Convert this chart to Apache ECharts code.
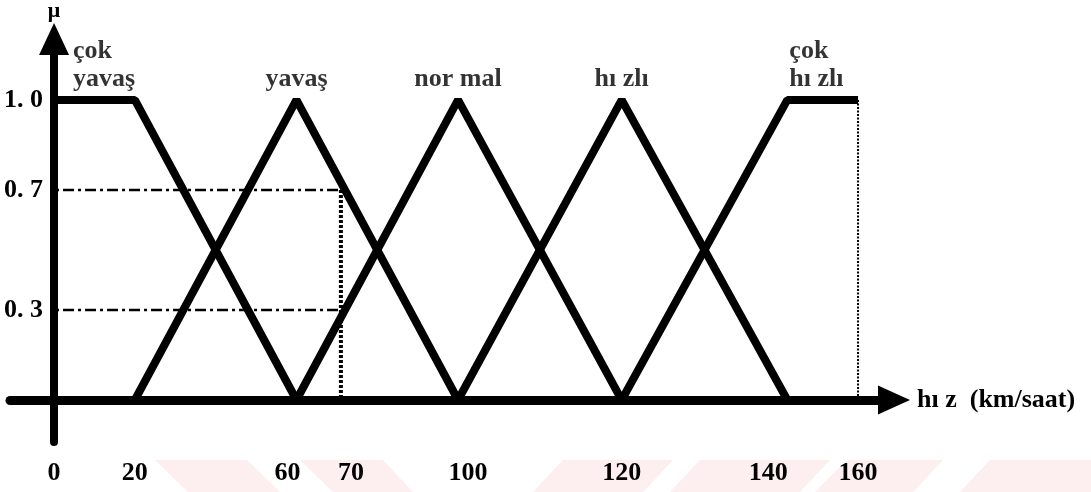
<!DOCTYPE html>
<html>
<head>
<meta charset="utf-8">
<title>hız üyelik fonksiyonları</title>
<script src="https://cdn.jsdelivr.net/npm/echarts@6/dist/echarts.min.js"></script>
<style>
  html, body { margin: 0; padding: 0; background: #fff; }
  #chart { width: 1091px; height: 492px; }
</style>
</head>
<body>
<div id="chart"></div>
<script>
// hız etiketleri (km/saat) ve şekildeki yerleri (şekil ölçekli çizilmemiş)
const speedTicks = [0, 20, 60, 70, 100, 120, 140, 160];
const drawnPos = [0, 20, 60, 71, 100, 140.5, 181.5, 199];

const muTicks = [0.3, 0.7, 1.0];
const muTickText = ['0. 3', '0. 7', '1. 0'];

// üyelik fonksiyonları [hız, μ]
const cokYavas = [[0, 1], [20, 1], [60, 0]];
const yavas = [[20, 0], [60, 1], [100, 0]];
const normal = [[60, 0], [100, 1], [120, 0]];
const hizli = [[100, 0], [120, 1], [140, 0]];
const cokHizli = [[120, 0], [140, 1], [160, 1]];

const setNames = ['çok\nyavaş', 'yavaş', 'nor mal', 'hı zlı', 'çok\nhı zlı'];
const setLabelAt = [0, 60, 100, 120, 140];

// 70 km/saat okuması
const readSpeed = 70;
const readMu = [0.7, 0.3];
const maxSpeed = 160;

const pos = v => drawnPos[speedTicks.indexOf(v)];
const toXY = arr => arr.map(([v, m]) => [pos(v), m]);

const font = { fontFamily: 'Liberation Serif', fontWeight: 'bold', fontSize: 26, color: '#000' };
const X_RANGE = { min: -10.9, max: 207.9 };
const Y_RANGE = { min: -0.14, max: 1.203 };

// daktilo baskısındaki gibi bazı etiketler tikten biraz kaymış (px)
const labelNudge = { 60: -9, 70: 10, 100: 10, 140: -19 };
const nudgeRich = {};
Object.values(labelNudge).forEach(d => {
  nudgeRich['n' + (d < 0 ? 'm' : 'p') + Math.abs(d)] = {
    ...font,
    padding: d < 0 ? [0, -2 * d, 0, 0] : [0, 0, 0, 2 * d],
  };
});

function tickText(v) {
  const s = speedTicks[drawnPos.indexOf(v)];
  const d = labelNudge[s];
  if (!d) return String(s);
  return '{n' + (d < 0 ? 'm' : 'p') + Math.abs(d) + '|' + s + '}';
}

function memberSeries(name, data) {
  return {
    name,
    type: 'line',
    data: toXY(data),
    showSymbol: false,
    silent: true,
    lineStyle: { color: '#000', width: 8 },
    z: 3,
  };
}

const chart = echarts.init(document.getElementById('chart'), null, { renderer: 'canvas' });

// filigran (soluk pembe şeritler)
const stripes = [
  [[155, 460], [247, 460], [280, 492], [188, 492]],
  [[300, 460], [383, 460], [413, 492], [333, 492]],
  [[563, 460], [673, 460], [643, 492], [533, 492]],
  [[700, 460], [830, 460], [800, 492], [670, 492]],
  [[847, 460], [943, 460], [913, 492], [815, 492]],
  [[990, 460], [1091, 460], [1091, 492], [960, 492]],
];

const noGrid = { axisTick: { show: false }, splitLine: { show: false } };

chart.setOption({
  animation: false,
  backgroundColor: '#fff',
  graphic: stripes.map(points => ({
    type: 'polygon',
    z: -10,
    silent: true,
    shape: { points },
    style: { fill: '#fdeef0' },
  })),
  grid: { left: 10, right: 197, top: 39, bottom: 50, containLabel: false, outerBoundsMode: 'none' },
  xAxis: [
    {
      type: 'value',
      ...X_RANGE,
      ...noGrid,
      name: 'hı z  (km/saat)',
      nameLocation: 'end',
      nameGap: 23,
      nameTextStyle: font,
      axisLine: {
        onZero: true,
        lineStyle: { color: '#000', width: 9 },
        symbol: ['none', 'triangle'],
        symbolSize: [29, 32],
      },
      axisLabel: { show: false },
    },
    {
      // yalnız tik etiketleri
      type: 'value',
      position: 'bottom',
      ...X_RANGE,
      ...noGrid,
      axisLine: { show: false, onZero: false },
      axisLabel: {
        ...font,
        margin: 18,
        customValues: drawnPos,
        formatter: tickText,
        rich: nudgeRich,
      },
    },
  ],
  yAxis: [
    {
      type: 'value',
      ...Y_RANGE,
      ...noGrid,
      name: 'μ',
      nameLocation: 'end',
      nameGap: 17,
      nameTextStyle: { ...font, fontSize: 22 },
      axisLine: {
        onZero: true,
        lineStyle: { color: '#000', width: 8 },
        symbol: ['none', 'triangle'],
        symbolSize: [30, 32],
      },
      axisLabel: { show: false },
    },
    {
      type: 'value',
      position: 'left',
      offset: -44,
      ...Y_RANGE,
      ...noGrid,
      axisLine: { show: false, onZero: false },
      axisLabel: {
        ...font,
        margin: 11,
        padding: [0, 0, 12, 0],
        customValues: muTicks,
        formatter: v => muTickText[muTicks.indexOf(v)],
      },
    },
  ],
  series: [
    memberSeries('çok yavaş', cokYavas),
    memberSeries('yavaş', yavas),
    memberSeries('normal', normal),
    memberSeries('hızlı', hizli),
    memberSeries('çok hızlı', cokHizli),
    ...readMu.map(m => ({
      type: 'line',
      data: toXY([[0, m], [readSpeed, m]]),
      showSymbol: false,
      silent: true,
      lineStyle: { color: '#000', width: 2.5, type: [11, 4, 3, 4], dashOffset: -9 },
      z: 2,
    })),
    {
      type: 'line',
      data: toXY([[readSpeed, readMu[0]], [readSpeed, 0]]),
      showSymbol: false,
      silent: true,
      lineStyle: { color: '#000', width: 4, type: [3, 2] },
      z: 2,
    },
    {
      type: 'line',
      data: toXY([[maxSpeed, 1], [maxSpeed, 0]]),
      showSymbol: false,
      silent: true,
      lineStyle: { color: '#000', width: 2, type: [2, 1.5] },
      z: 2,
    },
    {
      type: 'scatter',
      silent: true,
      symbolSize: 1,
      itemStyle: { color: 'rgba(0,0,0,0)' },
      z: 4,
      data: setLabelAt.map((v, i) => {
        const twoLine = setNames[i].includes('\n');
        return {
          value: [pos(v), 1],
          label: {
            show: true,
            formatter: setNames[i],
            position: 'top',
            distance: 6,
            align: twoLine ? 'left' : 'center',
            offset: twoLine ? [i === 0 ? 19 : 2, 0] : [0, 0],
            lineHeight: 28,
            ...font,
          },
        };
      }),
    },
  ],
});
</script>
</body>
</html>
